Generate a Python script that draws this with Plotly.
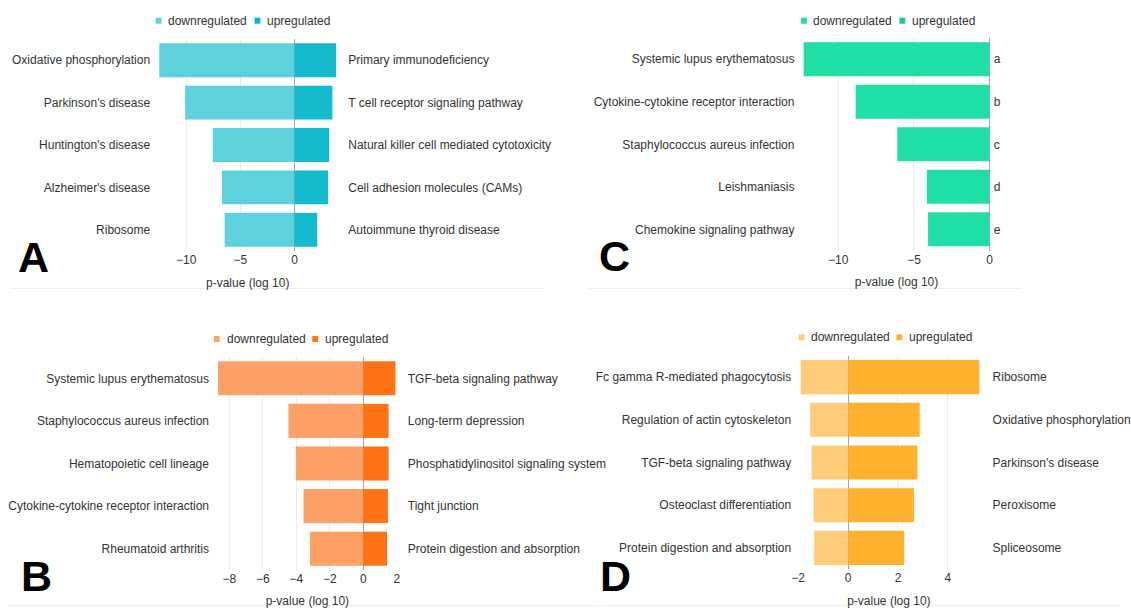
import plotly.graph_objects as go

W, H = 1131, 608
FONT = "Liberation Sans, Arial, sans-serif"
TEXT = "#333333"

# ---- Panel A: KEGG pathways, cyan ----
a_down_terms = ["Oxidative phosphorylation", "Parkinson's disease", "Huntington's disease",
                "Alzheimer's disease", "Ribosome"]
a_down_vals = [-12.5, -10.1, -7.55, -6.7, -6.45]
a_up_terms = ["Primary immunodeficiency", "T cell receptor signaling pathway",
              "Natural killer cell mediated cytotoxicity", "Cell adhesion molecules (CAMs)",
              "Autoimmune thyroid disease"]
a_up_vals = [3.86, 3.5, 3.2, 3.1, 2.1]

# ---- Panel B: orange ----
b_down_terms = ["Systemic lupus erythematosus", "Staphylococcus aureus infection",
                "Hematopoietic cell lineage", "Cytokine-cytokine receptor interaction",
                "Rheumatoid arthritis"]
b_down_vals = [-8.68, -4.47, -4.03, -3.57, -3.18]
b_up_terms = ["TGF-beta signaling pathway", "Long-term depression",
              "Phosphatidylinositol signaling system", "Tight junction",
              "Protein digestion and absorption"]
b_up_vals = [1.92, 1.51, 1.51, 1.47, 1.42]

# ---- Panel C: green ----
c_down_terms = ["Systemic lupus erythematosus", "Cytokine-cytokine receptor interaction",
                "Staphylococcus aureus infection", "Leishmaniasis", "Chemokine signaling pathway"]
c_down_vals = [-12.3, -8.85, -6.1, -4.15, -4.07]
c_up_terms = ["a", "b", "c", "d", "e"]
c_up_vals = [0, 0, 0, 0, 0]

# ---- Panel D: amber ----
d_down_terms = ["Fc gamma R-mediated phagocytosis", "Regulation of actin cytoskeleton",
                "TGF-beta signaling pathway", "Osteoclast differentiation",
                "Protein digestion and absorption"]
d_down_vals = [-1.9, -1.52, -1.46, -1.38, -1.36]
d_up_terms = ["Ribosome", "Oxidative phosphorylation", "Parkinson's disease", "Peroxisome",
              "Spliceosome"]
d_up_vals = [5.27, 2.87, 2.78, 2.64, 2.25]

series_names = ["downregulated", "upregulated"]
axis_title = "p-value (log 10)"


def px(x):
    return x / W


def py(y):
    return 1 - y / H


panels = [
    dict(letter="A", down=(a_down_terms, a_down_vals), up=(a_up_terms, a_up_vals),
         colors=("#50cfda", "#00b6c9"), legend_colors=("#5ed3dd", "#00bccd"),
         xdom=(154.6, 334.6), ydom=(39.0, 251.0), xrange=(-12.5, 3.86), dtick=5,
         lstand=8, rstand=11,
         legend_y=20.7, legend_sq=(154.0, 254.5), legend_tx=(164.0, 264.0),
         letter_xy=(9.5, 257.0)),
    dict(letter="C", down=(c_down_terms, c_down_vals), up=(c_up_terms, c_up_vals),
         colors=("#0ddda0", "#0ddda0"), legend_colors=("#26d9a2", "#12cf8c"),
         xdom=(809.3, 998.6), ydom=(38.0, 250.6), xrange=(-12.3, 0), dtick=5,
         lstand=8, rstand=3,
         legend_y=20.7, legend_sq=(809.8, 909.8), legend_tx=(819.3, 919.3),
         letter_xy=(600.0, 256.0)),
    dict(letter="B", down=(b_down_terms, b_down_vals), up=(b_up_terms, b_up_vals),
         colors=("#ff9859", "#ff6803"), legend_colors=("#ffa066", "#ff7417"),
         xdom=(214.4, 396.1), ydom=(357.0, 570.0), xrange=(-8.68, 2.0), dtick=2,
         lstand=8, rstand=10,
         legend_y=339.0, legend_sq=(213.2, 313.2), legend_tx=(223.3, 323.3),
         letter_xy=(12.0, 575.5)),
    dict(letter="D", down=(d_down_terms, d_down_vals), up=(d_up_terms, d_up_vals),
         colors=("#ffc86e", "#ffac1e"), legend_colors=("#ffcc7a", "#ffb330"),
         xdom=(804.0, 988.3), ydom=(355.7, 569.3), xrange=(-2.0, 5.27), dtick=2,
         lstand=6, rstand=12,
         legend_y=337.3, legend_sq=(807.5, 906.8), legend_tx=(816.7, 916.7),
         letter_xy=(600.5, 575.5)),
]

fig = go.Figure()
layout = {}
annotations = []
shapes = []

for i, p in enumerate(panels):
    xid = "x" if i == 0 else f"x{i + 1}"
    yl = "y" if i == 0 else f"y{2 * i + 1}"
    yr = f"y{2 * i + 2}"
    xkey = "xaxis" if i == 0 else f"xaxis{i + 1}"
    ylkey = "yaxis" if i == 0 else f"yaxis{2 * i + 1}"
    yrkey = f"yaxis{2 * i + 2}"

    down_terms, down_vals = p["down"]
    up_terms, up_vals = p["up"]

    fig.add_trace(go.Bar(x=down_vals, y=down_terms, orientation="h", name=series_names[0],
                         marker=dict(color=p["colors"][0], line=dict(width=0)), opacity=0.92,
                         xaxis=xid, yaxis=yl, showlegend=False))
    fig.add_trace(go.Bar(x=up_vals, y=up_terms, orientation="h", name=series_names[1],
                         marker=dict(color=p["colors"][1], line=dict(width=0)), opacity=0.92,
                         xaxis=xid, yaxis=yr, showlegend=False))

    layout[xkey] = dict(
        domain=[px(p["xdom"][0]), px(p["xdom"][1])], anchor=yl,
        range=list(p["xrange"]), dtick=p["dtick"], tick0=0,
        showgrid=True, gridcolor="#ebebeb", gridwidth=1,
        zeroline=True, zerolinecolor="#a8a8a8", zerolinewidth=1,
        showline=False, ticks="",
        tickfont=dict(family=FONT, size=12, color=TEXT),
        title=dict(text=axis_title, font=dict(family=FONT, size=12, color=TEXT), standoff=12),
    )
    layout[ylkey] = dict(
        domain=[py(p["ydom"][1]), py(p["ydom"][0])], anchor=xid,
        type="category", categoryorder="array", categoryarray=down_terms,
        autorange="reversed", showgrid=False, zeroline=False, showline=False, ticks="",
        ticklabelstandoff=p["lstand"],
        tickfont=dict(family=FONT, size=12, color=TEXT),
    )
    layout[yrkey] = dict(
        overlaying=yl, side="right", anchor=xid,
        type="category", categoryorder="array", categoryarray=up_terms,
        autorange="reversed", showgrid=False, zeroline=False, showline=False, ticks="",
        ticklabelstandoff=p["rstand"],
        tickfont=dict(family=FONT, size=12, color=TEXT),
    )

    # key above each panel: small coloured squares with series names
    for sq_x, tx_x, col, name in zip(p["legend_sq"], p["legend_tx"], p["legend_colors"], series_names):
        shapes.append(dict(type="rect", xref="paper", yref="paper",
                           x0=px(sq_x - 3), x1=px(sq_x + 3),
                           y0=py(p["legend_y"] + 3), y1=py(p["legend_y"] - 3),
                           fillcolor=col, line=dict(width=0)))
        annotations.append(dict(text=name, xref="paper", yref="paper",
                                x=px(tx_x - 2), y=py(p["legend_y"]),
                                xanchor="left", yanchor="middle", showarrow=False,
                                font=dict(family=FONT, size=12, color=TEXT)))

    # panel letter
    annotations.append(dict(text=f"<b>{p['letter']}</b>", xref="paper", yref="paper",
                            x=px(p["letter_xy"][0]), y=py(p["letter_xy"][1]),
                            xanchor="left", yanchor="middle", showarrow=False,
                            font=dict(family=FONT, size=43, color="#000000")))

# faint panel borders under each panel
for x0, x1, y in [(3, 546, 288.5), (590, 1030, 288.5), (0, 600, 605.5), (604, 1131, 605.5)]:
    shapes.append(dict(type="line", xref="paper", yref="paper",
                       x0=px(x0), x1=px(x1), y0=py(y), y1=py(y),
                       line=dict(color="#eeeeee", width=1)))

fig.update_layout(
    width=W, height=H,
    margin=dict(l=0, r=0, t=0, b=0),
    paper_bgcolor="white", plot_bgcolor="white",
    barmode="overlay", bargap=0.2,
    showlegend=False,
    annotations=annotations, shapes=shapes,
    font=dict(family=FONT, size=12, color=TEXT),
    **layout,
)

fig.write_html("out.html")
